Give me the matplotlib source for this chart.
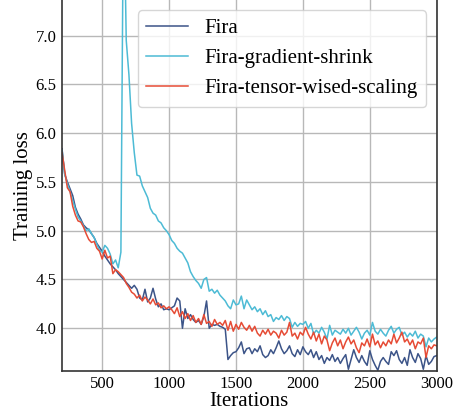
import numpy as np
import matplotlib
matplotlib.use("Agg")
import matplotlib.pyplot as plt

# logged every 20 iterations, 200 .. 3000
iterations = np.arange(200, 3001, 20)

fira = [
    5.84, 5.58, 5.50, 5.43, 5.36, 5.24, 5.17, 5.12, 5.06, 5.03,
    5.01, 4.97, 4.93, 4.87, 4.83, 4.79, 4.74, 4.70, 4.66, 4.63,
    4.60, 4.56, 4.53, 4.50, 4.47, 4.44, 4.41, 4.44, 4.40, 4.31,
    4.29, 4.40, 4.27, 4.31, 4.41, 4.30, 4.22, 4.25, 4.19, 4.20,
    4.19, 4.21, 4.23, 4.31, 4.28, 4.00, 4.20, 4.10, 4.14, 4.09,
    4.06, 4.08, 4.04, 4.12, 4.28, 4.00, 4.04, 4.03, 4.04, 4.02,
    4.01, 3.99, 3.68, 3.72, 3.75, 3.76, 3.80, 3.86, 3.74, 3.79,
    3.80, 3.74, 3.79, 3.76, 3.82, 3.73, 3.70, 3.72, 3.78, 3.74,
    3.80, 3.87, 3.79, 3.74, 3.77, 3.82, 3.74, 3.71, 3.78, 3.73,
    3.81, 3.76, 3.73, 3.78, 3.70, 3.76, 3.68, 3.72, 3.64, 3.70,
    3.67, 3.73, 3.66, 3.70, 3.64, 3.69, 3.73, 3.58, 3.68, 3.78,
    3.70, 3.65, 3.72, 3.66, 3.62, 3.77, 3.68, 3.62, 3.57, 3.66,
    3.70, 3.66, 3.63, 3.76, 3.72, 3.77, 3.68, 3.64, 3.70, 3.62,
    3.78, 3.70, 3.65, 3.74, 3.69, 3.58, 3.72, 3.63, 3.66, 3.71,
    3.72,
]

fira_shrink = [
    5.83, 5.58, 5.48, 5.40, 5.31, 5.22, 5.14, 5.10, 5.05, 5.00,
    5.02, 4.97, 4.93, 4.86, 4.80, 4.78, 4.85, 4.82, 4.76, 4.66,
    4.70, 4.62, 4.78, 8.60, 6.95, 6.60, 6.10, 5.80, 5.57, 5.56,
    5.46, 5.40, 5.34, 5.23, 5.18, 5.16, 5.10, 5.08, 5.03, 5.00,
    4.96, 4.90, 4.87, 4.82, 4.79, 4.77, 4.72, 4.67, 4.58, 4.53,
    4.49, 4.46, 4.41, 4.50, 4.52, 4.38, 4.40, 4.36, 4.39, 4.34,
    4.31, 4.28, 4.23, 4.20, 4.29, 4.24, 4.25, 4.33, 4.20, 4.29,
    4.24, 4.19, 4.22, 4.17, 4.20, 4.14, 4.18, 4.12, 4.14, 4.07,
    4.11, 4.09, 4.13, 4.08, 4.12, 4.10, 4.01, 4.06, 4.02, 4.05,
    4.04, 4.07, 4.00, 4.05, 3.94, 3.98, 3.95, 4.01, 3.96, 3.89,
    4.03, 3.93, 3.98, 3.96, 3.94, 3.99, 3.95, 4.00, 3.93, 3.97,
    4.01, 3.96, 3.89, 3.95, 3.98, 3.93, 4.06, 3.97, 3.94, 3.99,
    3.95, 3.92, 3.98, 4.02, 3.95, 3.99, 4.01, 3.93, 3.96, 3.91,
    3.95, 3.92, 3.97, 3.90, 3.94, 3.92, 3.81, 3.90, 3.86, 3.89,
    3.91,
]

fira_tensor = [
    5.80, 5.62, 5.44, 5.40, 5.25, 5.16, 5.10, 5.09, 5.04, 4.97,
    4.91, 4.88, 4.89, 4.82, 4.79, 4.71, 4.80, 4.72, 4.74, 4.56,
    4.60, 4.58, 4.55, 4.52, 4.46, 4.42, 4.37, 4.35, 4.31, 4.34,
    4.28, 4.32, 4.29, 4.25, 4.30, 4.24, 4.26, 4.21, 4.23, 4.20,
    4.22, 4.19, 4.15, 4.21, 4.12, 4.17, 4.10, 4.15, 4.08, 4.13,
    4.06, 4.10, 4.04, 4.14, 4.05, 4.07, 4.02, 4.09, 4.04, 4.06,
    4.03, 4.08, 3.98, 4.07, 3.97, 4.04, 3.99, 4.06, 4.01, 3.98,
    4.03, 3.97, 4.02, 3.95, 3.92, 3.98, 3.94, 3.99, 3.93, 3.97,
    3.95, 3.90, 3.98, 3.93, 3.96, 4.06, 3.92, 3.95, 3.89, 3.96,
    3.93, 4.01, 3.94, 3.89, 3.96, 3.87, 3.94, 3.84, 3.92, 3.88,
    3.77, 3.85, 3.90, 3.82, 3.88, 3.79, 3.86, 3.91, 3.84, 3.88,
    3.80, 3.75, 3.85, 3.82, 3.89, 3.81, 3.94, 3.83, 3.87, 3.80,
    3.86, 3.82, 3.88, 3.84, 3.94, 3.85, 3.90, 3.96, 3.86, 3.89,
    3.83, 3.88, 3.79, 3.86, 3.84, 3.90, 3.70, 3.82, 3.79, 3.83,
    3.82,
]

labels = ["Fira", "Fira-gradient-shrink", "Fira-tensor-wised-scaling"]
colors = ["#3C5488", "#4DBBD5", "#E64B35"]

plt.rcParams["font.family"] = ["Liberation Serif", "DejaVu Serif"]

fig = plt.figure(figsize=(4.55, 4.17), dpi=100)
ax = fig.add_axes([0.1363, 0.111, 0.8235, 0.889])

for series, label, color in zip([fira, fira_shrink, fira_tensor], labels, colors):
    ax.plot(iterations, series, color=color, linewidth=1.1, label=label)

ax.set_xlim(200, 3000)
ax.set_ylim(3.565, 7.365)
ax.set_xticks([500, 1000, 1500, 2000, 2500, 3000])
ax.set_yticks([4.0, 4.5, 5.0, 5.5, 6.0, 6.5, 7.0])
ax.yaxis.set_major_formatter(matplotlib.ticker.FormatStrFormatter('%.1f'))

ax.grid(color='#b8b8b8', linewidth=1.0)
ax.set_axisbelow(True)
ax.tick_params(axis='both', direction='in', length=0, pad=4, labelsize=12)

for side in ['left', 'bottom', 'right']:
    ax.spines[side].set_color('#333333')
    ax.spines[side].set_linewidth(1.2)
ax.spines['top'].set_visible(False)

ax.set_xlabel("Iterations", fontsize=15, labelpad=0)
ax.set_ylabel("Training loss", fontsize=15, labelpad=2)
ax.legend(loc='upper right', fontsize=15)

plt.savefig("out.png", dpi=100)
